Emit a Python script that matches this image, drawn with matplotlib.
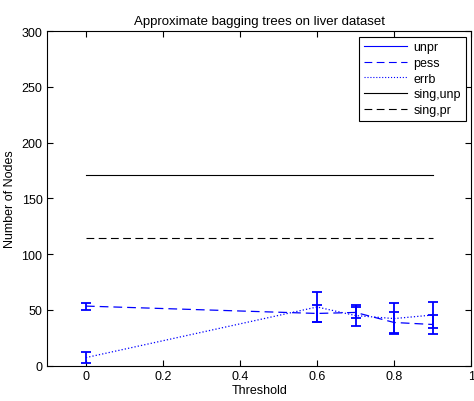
import numpy as np
import matplotlib.pyplot as plt
from matplotlib.lines import Line2D

plt.rcParams.update({"font.family": ["Liberation Sans", "DejaVu Sans"],
                     "font.size": 9,
                     "xtick.top": True,
                     "xtick.direction": "in",
                     "ytick.right": True,
                     "ytick.direction": "in",
                     "xtick.major.size": 4,
                     "ytick.major.size": 4})

# Data
thresh = [0, 0.6, 0.7, 0.8, 0.9]
pess = [53.4, 46.8, 47.7, 38.7, 36.9]
pess_err = [3.2, 7.8, 5.0, 9.0, 8.5]
errb = [7.2, 52.6, 44.9, 42.2, 45.4]
errb_err = [4.8, 13.8, 9.7, 13.9, 12.0]
sing_unp = [171, 171]
sing_pr = [114.5, 114.5]
sing_x = [0, 0.9]

fig = plt.figure(figsize=(4.74, 4.02), dpi=100)
ax = fig.add_axes([0.100, 0.088, 0.894, 0.832])

ax.errorbar(thresh, pess, yerr=pess_err, fmt='b--', lw=0.9, elinewidth=1.3,
            capsize=3.5, capthick=1.3, dashes=(7, 4))
ax.errorbar(thresh, errb, yerr=errb_err, fmt='b:', lw=0.9, elinewidth=1.3,
            capsize=3.5, capthick=1.3)
ax.plot(sing_x, sing_unp, 'k-', lw=0.8)
ax.plot(sing_x, sing_pr, 'k--', lw=0.8, dashes=(7, 4))

ax.set_xlim(-0.1, 1)
ax.set_ylim(0, 300)
ax.set_xticks([0, 0.2, 0.4, 0.6, 0.8, 1])
ax.set_xticklabels(['0', '0.2', '0.4', '0.6', '0.8', '1'])
ax.set_yticks(range(0, 301, 50))
ax.set_xlabel("Threshold", labelpad=1)
ax.set_ylabel("Number of Nodes", labelpad=4)
ax.set_title("Approximate bagging trees on liver dataset", fontsize=9.5, pad=5)

handles = [Line2D([], [], color='b', ls='-', lw=0.8),
           Line2D([], [], color='b', ls='--', lw=0.8, dashes=(7, 4)),
           Line2D([], [], color='b', ls=':', lw=0.8),
           Line2D([], [], color='k', ls='-', lw=0.8),
           Line2D([], [], color='k', ls='--', lw=0.8, dashes=(7, 4))]
labels = ['unpr', 'pess', 'errb', 'sing,unp', 'sing,pr']
leg = ax.legend(handles, labels, loc='upper right', fancybox=False,
                edgecolor='k', framealpha=1, handlelength=3.5,
                borderaxespad=0.45, labelspacing=0.3, borderpad=0.35,
                handletextpad=0.5)
leg.get_frame().set_linewidth(0.8)

fig.savefig('out.png', dpi=100)
